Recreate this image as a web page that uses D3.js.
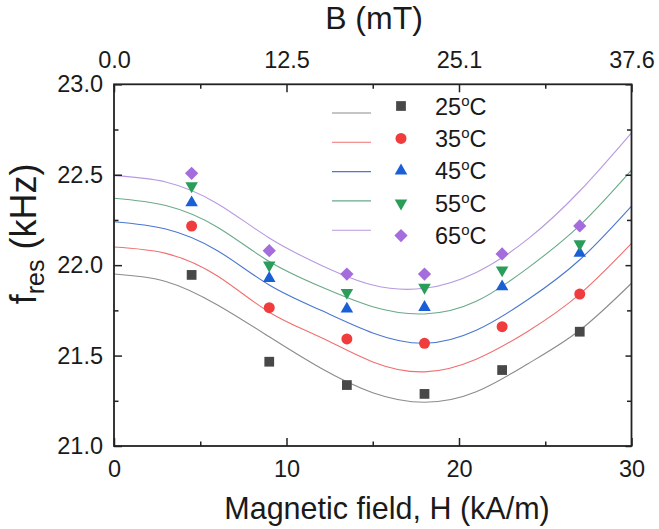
<!DOCTYPE html>
<html><head><meta charset="utf-8">
<script src="https://cdn.jsdelivr.net/npm/d3@7"></script>
<style>
body{margin:0;background:#fff}
text{font-family:"Liberation Sans",Arial,sans-serif;fill:#1a1a1a}
</style>
</head><body>
<svg id="c" width="659" height="529"></svg>
<script>
// ---- data ----
const temps = ["25", "35", "45", "55", "65"];
const pointH = [4.5, 9, 13.5, 18, 22.5, 27];
const f25 = [21.946, 21.466, 21.337, 21.288, 21.42, 21.632];
const f35 = [22.216, 21.765, 21.592, 21.568, 21.66, 21.84];
const f45 = [22.345, 21.927, 21.758, 21.767, 21.881, 22.066];
const f55 = [22.438, 22.0, 21.848, 21.877, 21.973, 22.117];
const f65 = [22.508, 22.08, 21.951, 21.951, 22.062, 22.217];
const fitH = [0, 3, 6, 9, 12, 15, 18, 21, 24, 27, 30];
const fit25 = [21.951, 21.91, 21.78, 21.604, 21.43, 21.295, 21.242, 21.30, 21.455, 21.64, 21.90];
const fit35 = [22.10, 22.065, 21.94, 21.74, 21.60, 21.465, 21.41, 21.48, 21.635, 21.84, 22.12];
const fit45 = [22.24, 22.20, 22.08, 21.89, 21.75, 21.625, 21.568, 21.64, 21.81, 22.03, 22.327];
const fit55 = [22.37, 22.33, 22.21, 22.02, 21.88, 21.77, 21.73, 21.80, 21.985, 22.22, 22.526];
const fit65 = [22.495, 22.46, 22.34, 22.15, 22.0, 21.89, 21.872, 21.96, 22.145, 22.41, 22.732];
const xMajor = [0, 10, 20, 30];
const xMinor = [5, 15, 25];
const topLabels = ["0.0", "12.5", "25.1", "37.6"];
const yMajor = [21.0, 21.5, 22.0, 22.5, 23.0];
const yMinor = [21.25, 21.75, 22.25, 22.75];

const pointSeries = [f25, f35, f45, f55, f65];
const fitSeries = [fit25, fit35, fit45, fit55, fit65];
const markColors = ["#484848", "#f03c3c", "#1a5fd6", "#2a9d5a", "#a46cdc"];
const lineColors = ["#8c8c8c", "#f07070", "#4a78d0", "#6aaa88", "#b89ae0"];
const symTypes = [d3.symbolSquare, d3.symbolCircle, d3.symbolTriangle, d3.symbolTriangle, d3.symbolSquare];
const symSizes = [95, 95, 68, 68, 88];
const symRot = [0, 0, 0, 180, 45];

const svg = d3.select("#c");
const L = 114, R = 631.5, T = 84.3, B = 446;
const x = d3.scaleLinear().domain([0, 30]).range([L, R]);
const y = d3.scaleLinear().domain([21, 23]).range([B, T]);

const font = "Liberation Sans, Arial, sans-serif";

// fitted curves
const line = d3.line().x(d => x(d[0])).y(d => y(d[1])).curve(d3.curveNatural);
fitSeries.forEach((s, i) => {
  svg.append("path").attr("d", line(fitH.map((h, k) => [h, s[k]])))
    .attr("fill", "none").attr("stroke", lineColors[i]).attr("stroke-width", 1.1);
});

// points
pointSeries.forEach((s, i) => {
  const sym = d3.symbol().type(symTypes[i]).size(symSizes[i]);
  svg.append("g").selectAll("path").data(s).join("path")
    .attr("d", sym)
    .attr("transform", (d, k) => `translate(${x(pointH[k])},${y(d)}) rotate(${symRot[i]})`)
    .attr("fill", markColors[i]);
});

// axes
function styleAxis(g, fs) {
  g.select(".domain").remove();
  g.selectAll(".tick line").attr("stroke", "#222").attr("stroke-width", 1.5);
  g.selectAll(".tick text").attr("font-size", fs).attr("font-family", font).attr("fill", "#1a1a1a");
}
const ax = [];
ax.push(svg.append("g").attr("transform", `translate(0,${B})`)
  .call(d3.axisBottom(x).tickValues(xMajor).tickFormat(d3.format("d")).tickSizeInner(-8).tickSizeOuter(0).tickPadding(14)));
ax.push(svg.append("g").attr("transform", `translate(0,${B})`)
  .call(d3.axisBottom(x).tickValues(xMinor).tickFormat("").tickSizeInner(-4.5).tickSizeOuter(0)));
ax.push(svg.append("g").attr("transform", `translate(0,${T})`)
  .call(d3.axisTop(x).tickValues(xMajor).tickFormat((d, i) => topLabels[i]).tickSizeInner(-8).tickSizeOuter(0).tickPadding(16)));
ax.push(svg.append("g").attr("transform", `translate(0,${T})`)
  .call(d3.axisTop(x).tickValues(xMinor).tickFormat("").tickSizeInner(-4.5).tickSizeOuter(0)));
ax.push(svg.append("g").attr("transform", `translate(${L},0)`)
  .call(d3.axisLeft(y).tickValues(yMajor).tickFormat(d3.format(".1f")).tickSizeInner(-8).tickSizeOuter(0).tickPadding(11)));
ax.push(svg.append("g").attr("transform", `translate(${L},0)`)
  .call(d3.axisLeft(y).tickValues(yMinor).tickFormat("").tickSizeInner(-4.5).tickSizeOuter(0)));
ax.push(svg.append("g").attr("transform", `translate(${R},0)`)
  .call(d3.axisRight(y).tickValues(yMajor).tickFormat("").tickSizeInner(-6).tickSizeOuter(0)));
ax.push(svg.append("g").attr("transform", `translate(${R},0)`)
  .call(d3.axisRight(y).tickValues(yMinor).tickFormat("").tickSizeInner(-4.5).tickSizeOuter(0)));
ax.forEach(g => styleAxis(g, 23.5));

// frame
svg.append("rect").attr("x", L).attr("y", T).attr("width", R - L).attr("height", B - T)
  .attr("fill", "none").attr("stroke", "#222").attr("stroke-width", 1.8);

// titles
svg.append("text").attr("x", 387).attr("y", 519).attr("text-anchor", "middle")
  .attr("font-size", 30.5).text("Magnetic field, H (kA/m)");
svg.append("text").attr("x", 374).attr("y", 29).attr("text-anchor", "middle")
  .attr("font-size", 32).text("B (mT)");
const yt = svg.append("text").attr("transform", "translate(36,234) rotate(-90)")
  .attr("text-anchor", "middle").attr("font-size", 36);
yt.append("tspan").text("f");
yt.append("tspan").attr("font-size", 25).attr("dy", 8).text("res");
yt.append("tspan").attr("dy", -8).text(" (kHz)");

// legend
temps.forEach((t, i) => {
  const ly = 113 + i * 29.3;
  const my = 106 + i * 32.4;
  svg.append("line").attr("x1", 332).attr("x2", 371).attr("y1", ly).attr("y2", ly)
    .attr("stroke", lineColors[i]).attr("stroke-width", 1.1);
  svg.append("path").attr("d", d3.symbol().type(symTypes[i]).size(symSizes[i])())
    .attr("transform", `translate(401,${my}) rotate(${symRot[i]})`).attr("fill", markColors[i]);
  const tx = svg.append("text").attr("x", 435).attr("y", my + 8.5).attr("font-size", 23.5);
  tx.append("tspan").text(t);
  tx.append("tspan").attr("font-size", 15).attr("dy", -9).text("o");
  tx.append("tspan").attr("dy", 9).text("C");
});
</script>
</body></html>
